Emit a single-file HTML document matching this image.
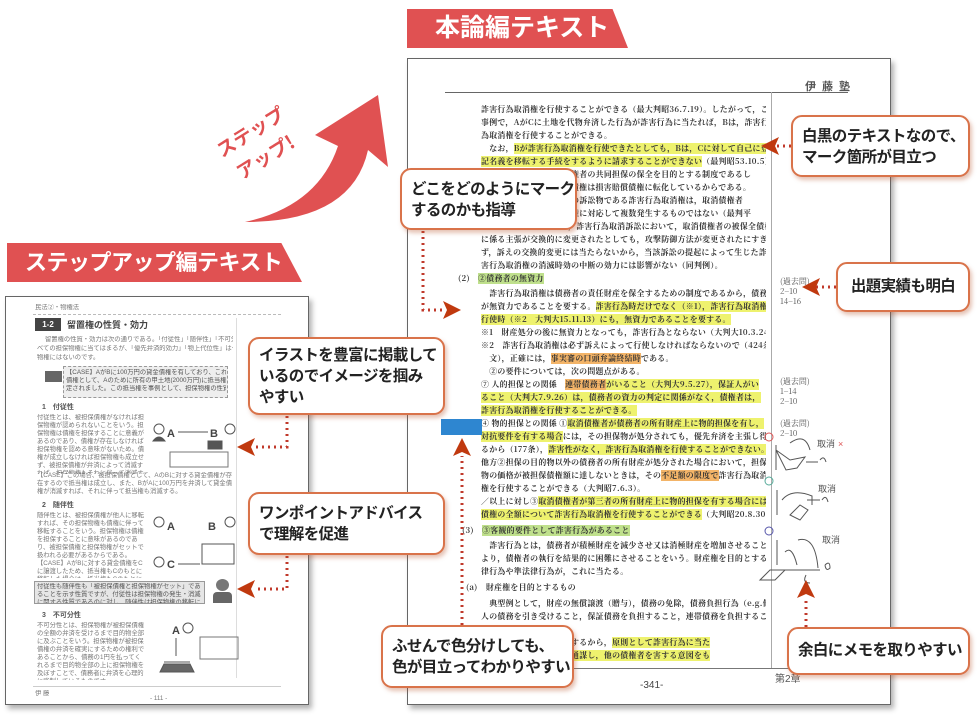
<!DOCTYPE html>
<html><head><meta charset="utf-8">
<style>
*{margin:0;padding:0;box-sizing:border-box}
body{width:980px;height:716px;background:#fff;position:relative;overflow:hidden;font-family:"Liberation Sans","Noto Sans CJK JP",sans-serif}
.abs{position:absolute}
.banner{position:absolute;background:#e05152;color:#fff;font-weight:bold;clip-path:polygon(0 0,93% 0,100% 100%,0 100%);white-space:nowrap}
.page{position:absolute;background:#fff;border:1.5px solid #666;box-shadow:3px 4px 5px rgba(0,0,0,.3)}
.rt{position:absolute;left:481px;width:285px;font-size:7.9px;letter-spacing:0.3px;color:#333;white-space:nowrap;overflow:hidden;line-height:11px;font-weight:bold;font-family:"Noto Serif CJK SC","Liberation Serif",serif}
.y{background:#eef26e}
.o{background:#f3b468}
.g{background:#bfe08c}
.u{border-bottom:2px solid #e24d95}
.lt{position:absolute;font-size:6.3px;color:#777;white-space:nowrap;overflow:hidden;line-height:8px}
.call{position:absolute;background:#fff;border:2px solid #d9734a;border-radius:11px;box-shadow:2px 3px 4px rgba(180,80,40,.35);font-weight:bold;color:#222;font-size:15.5px;letter-spacing:-0.6px;line-height:21px;padding:8px 9px;white-space:nowrap}
.note{position:absolute;left:780px;font-size:8px;color:#555;line-height:10px;font-family:"Noto Serif CJK SC",serif}
</style></head><body>

<div class="banner" style="left:407px;top:9px;width:221px;height:39px;font-size:25px;line-height:39px;padding-left:28px">本論編テキスト</div>
<div class="banner" style="left:7px;top:243px;width:295px;height:39px;font-size:22px;line-height:39px;padding-left:18px;letter-spacing:-0.5px">ステップアップ編テキスト</div>

<svg class="abs" style="left:0;top:0" width="980" height="716">
<path d="M245,222 Q352,222 368,150 L388,167 L378,95 L315,135 L338,146 Q318,206 245,222 Z" fill="#e05152"/>
<text x="0" y="0" font-size="19" font-weight="bold" fill="#e05152" transform="translate(222,158) rotate(-32)" font-family="Noto Sans CJK JP, sans-serif">ステップ</text>
<text x="0" y="0" font-size="19" font-weight="bold" fill="#e05152" transform="translate(242,180) rotate(-32)" font-family="Noto Sans CJK JP, sans-serif">アップ!</text>
</svg>

<div class="page" style="left:407px;top:58px;width:484px;height:647px"></div>
<div class="abs" style="left:445px;top:92px;width:403px;height:1px;background:#666"></div>
<div class="abs" style="left:805px;top:78px;font-size:11px;font-weight:bold;color:#555;letter-spacing:6px">伊藤塾</div>
<div class="abs" style="left:771px;top:92px;width:1px;height:576px;background:#aaa"></div>
<div class="abs" style="left:445px;top:668px;width:403px;height:1px;background:#777"></div>
<div class="abs" style="left:640px;top:680px;font-size:10px;color:#444">-341-</div>
<div class="abs" style="left:775px;top:670px;font-size:10px;color:#555">第2章</div>

<div class="rt" style="top:104px">詐害行為取消権を行使することができる（最大判昭36.7.19）。したがって，この</div>
<div class="rt" style="top:117px">事例で，AがCに土地を代物弁済した行為が詐害行為に当たれば，Bは，詐害行</div>
<div class="rt" style="top:130px">為取消権を行使することができる。</div>
<div class="rt" style="top:143px">　なお，<span class="y u">Bが詐害行為取消権を行使できたとしても，Bは，Cに対して自己に登</span></div>
<div class="rt" style="top:156px"><span class="y u">記名義を移転する手続をするように請求することができない</span>（最判昭53.10.5）。</div>
<div class="rt" style="top:169px">詐害行為取消権は，総債権者の共同担保の保全を目的とする制度であるし</div>
<div class="rt" style="top:182px">たがって，取消債権者の債権は損害賠償債権に転化しているからである。</div>
<div class="rt" style="top:195px">また，詐害行為取消訴訟の訴訟物である詐害行為取消権は，取消債権者</div>
<div class="rt" style="top:208px">の有する個々の被保全債権に対応して複数発生するものではない（最判平</div>
<div class="rt" style="top:221px">22.10.19）。したがって，詐害行為取消訴訟において，取消債権者の被保全債権</div>
<div class="rt" style="top:234px">に係る主張が交換的に変更されたとしても，攻撃防御方法が変更されたにすぎ</div>
<div class="rt" style="top:247px">ず，訴えの交換的変更には当たらないから，当該訴訟の提起によって生じた詐</div>
<div class="rt" style="top:260px">害行為取消権の消滅時効の中断の効力には影響がない（同判例）。</div>
<div class="rt" style="top:273px;left:458px">(2)　<span class="g">②債務者の無資力</span></div>
<div class="rt" style="top:288px">　詐害行為取消権は債務者の責任財産を保全するための制度であるから，<span class="u">債務者</span></div>
<div class="rt" style="top:301px"><span class="u">が無資力であることを要する。</span><span class="y u">詐害行為時だけでなく（※1），詐害行為取消権の</span></div>
<div class="rt" style="top:314px"><span class="y u">行使時（※2　大判大15.11.13）にも，無資力であることを要する。</span></div>
<div class="rt" style="top:327px">※1　財産処分の後に無資力となっても，詐害行為とならない（大判大10.3.24）。</div>
<div class="rt" style="top:340px">※2　詐害行為取消権は必ず訴えによって行使しなければならないので（424条1項本</div>
<div class="rt" style="top:353px">　文），正確には，<span class="o">事実審の口頭弁論終結時</span>である。</div>
<div class="rt" style="top:366px">　②の要件については，次の問題点がある。</div>
<div class="rt" style="top:379px">⑦ 人的担保との関係　<span class="y u"><span class="o">連帯債務者</span>がいること（大判大9.5.27），保証人がい</span></div>
<div class="rt" style="top:392px"><span class="y u">ること（大判大7.9.26）は，債務者の資力の判定に関係がなく，債権者は，</span></div>
<div class="rt" style="top:405px"><span class="y u">詐害行為取消権を行使することができる。</span></div>
<div class="rt" style="top:418px">④ 物的担保との関係 ①<span class="y">取消債権者が債務者の所有財産上に物的担保を有し，</span></div>
<div class="rt" style="top:431px"><span class="y">対抗要件を有する場合</span>には，その担保物が処分されても，優先弁済を主張し得</div>
<div class="rt" style="top:444px">るから（177条），<span class="y">詐害性がなく，詐害行為取消権を行使することができない。</span></div>
<div class="rt" style="top:457px">他方②<span class="u">担保の目的物以外の債務者の所有財産が処分された場合において，担保</span></div>
<div class="rt" style="top:470px"><span class="u">物の価格が被担保債権額に達しないときは，その<span class="o">不足額の限度で</span>詐害行為取消</span></div>
<div class="rt" style="top:483px"><span class="u">権を行使することができる</span>（大判昭7.6.3）。</div>
<div class="rt" style="top:496px">／以上に対し③<span class="y u">取消債権者が第三者の所有財産上に物的担保を有する場合には，</span></div>
<div class="rt" style="top:509px"><span class="y u">債権の全額について詐害行為取消権を行使することができる</span>（大判昭20.8.30）。</div>
<div class="rt" style="top:525px;left:462px">(3)　<span class="g">③客観的要件として詐害行為があること</span></div>
<div class="rt" style="top:540px">　詐害行為とは，債務者が積極財産を減少させ又は消極財産を増加させることに</div>
<div class="rt" style="top:553px">より，債権者の執行を結果的に困難にさせることをいう。財産権を目的とする法</div>
<div class="rt" style="top:566px">律行為や準法律行為が，これに当たる。</div>
<div class="rt" style="top:582px;left:466px">(a)　<span style="border-bottom:2px solid #7cc34e">財産権を目的とするもの</span></div>
<div class="rt" style="top:598px">　典型例として，財産の無償譲渡（贈与），債務の免除，債務負担行為（e.g.他</div>
<div class="rt" style="top:611px">人の債務を引き受けること，保証債務を負担すること，連帯債務を負担するこ</div>
<div class="rt" style="top:624px">と等）のものがある。</div>
<div class="rt" style="top:637px">　弁済は責任財産は減少するから，<span class="y">原則として詐害行為に当た</span></div>
<div class="rt" style="top:650px">　らないが，<span class="y">一債権者と通謀し，他の債権者を害する意図をも</span></div>

<div class="note" style="top:277px">(過去問)<br>2−10<br>14−16</div>
<div class="note" style="top:377px">(過去問)<br>1−14<br>2−10</div>
<div class="note" style="top:419px">(過去問)<br>2−10</div>

<svg class="abs" style="left:0;top:0" width="980" height="716" fill="none" stroke="#555" stroke-width="1">
<circle cx="769" cy="437" r="4" stroke="#d55"/><circle cx="769" cy="481" r="4" stroke="#5a9"/><circle cx="769" cy="531" r="4" stroke="#55a"/>
<path d="M776,445 L776,470 M776,450 L790,460 L805,457 L797,468 L786,470Z M790,443 Q805,432 810,450 M806,462 L818,462 M820,460 q4,-5 6,2"/>
<path d="M777,490 L777,515 M782,500 Q792,488 812,496 L812,505 M790,515 L800,505 L808,510 L800,520Z M807,500 L820,500 M822,500 q4,-6 6,2"/>
<path d="M777,540 L777,565 M778,570 L820,570 M785,552 Q792,545 797,565 M798,540 Q815,535 818,568 M760,580 L770,570 L785,570 L775,580Z M806,575 q-4,8 4,8 M825,565 q5,-5 5,3 q-4,4 -5,-3"/>
<text x="817" y="447" font-size="9" fill="#555" stroke="none">取消</text><text x="838" y="447" font-size="9" fill="#d55" stroke="none">×</text>
<text x="818" y="492" font-size="9" fill="#555" stroke="none">取消</text>
<text x="822" y="543" font-size="9" fill="#555" stroke="none">取消</text>
</svg>

<div class="abs" style="left:441px;top:419px;width:41px;height:16px;background:#2e86d0"></div>

<div class="page" style="left:5px;top:296px;width:304px;height:409px"></div>
<div class="lt" style="left:35px;top:304px">民法②・物権法</div>
<div class="abs" style="left:33px;top:314px;width:248px;border-top:1px dashed #bbb"></div>
<div class="abs" style="left:236px;top:318px;width:1px;height:360px;background:#ddd"></div>
<div class="abs" style="left:35px;top:318px;width:26px;height:13px;background:#444;color:#fff;font-size:8px;font-weight:bold;line-height:13px;text-align:center">1-2</div>
<div class="abs" style="left:67px;top:318px;font-size:9px;font-weight:bold;color:#444">留置権の性質・効力</div>
<div class="lt" style="left:45px;top:336px;width:188px">留置権の性質・効力は次の通りである。「付従性」「随伴性」「不可分性」はす</div>
<div class="lt" style="left:37px;top:345px;width:196px">べての担保物権に当てはまるが、「優先弁済的効力」「物上代位性」は一部の担保</div>
<div class="lt" style="left:37px;top:354px;width:196px">物権にはないのです。</div>
<div class="abs" style="left:45px;top:371px;width:17px;height:11px;background:#666"></div>
<div class="abs" style="left:63px;top:366px;width:165px;height:32px;background:#eee;border:1px dashed #999"></div>
<div class="lt" style="left:66px;top:369px;width:160px;color:#555">【CASE】AがBに100万円の貸金債権を有しており、これを被担保</div>
<div class="lt" style="left:66px;top:377px;width:160px;color:#555">債権として、Aのために所有の甲土地(2000万円)に抵当権が設</div>
<div class="lt" style="left:66px;top:385px;width:160px;color:#555">定されました。この抵当権を事例として、担保物権の性質を見てい</div>
<div class="abs" style="left:42px;top:402px;font-size:7px;font-weight:bold;color:#555">1　付従性</div>
<div class="lt" style="left:37px;top:414px;width:108px;white-space:normal;height:60px">付従性とは、被担保債権がなければ担保物権が認められないことをいう。担保物権は債権を担保することに意義があるのであり、債権が存在しなければ担保物権を認める意味がないため。債権が成立しなければ担保物権も成立せず、被担保債権が弁済によって消滅すれば、担保物権もそれに伴って消滅する。</div>
<div class="lt" style="left:37px;top:472px;width:196px;white-space:normal;height:26px">【CASE】この場合、被担保債権として、AのBに対する貸金債権が存在するので抵当権は成立し、また、BがAに100万円を弁済して貸金債権が消滅すれば、それに伴って抵当権も消滅する。</div>
<svg class="abs" style="left:150px;top:415px" width="90" height="55" fill="none" stroke="#555">
<circle cx="9" cy="14" r="5"/><path d="M3,26 q6,-8 12,0z" fill="#555"/><text x="17" y="22" font-size="11" fill="#444" stroke="none" font-weight="bold">A</text>
<text x="60" y="22" font-size="11" fill="#444" stroke="none" font-weight="bold">B</text><circle cx="80" cy="14" r="5"/>
<path d="M28,17 L58,17"/><rect x="58" y="26" width="14" height="8" fill="#555"/>
<rect x="20" y="37" width="58" height="15" stroke="#777"/>
</svg>
<div class="abs" style="left:42px;top:500px;font-size:7px;font-weight:bold;color:#555">2　随伴性</div>
<div class="lt" style="left:37px;top:512px;width:108px;white-space:normal;height:66px">随伴性とは、被担保債権が他人に移転すれば、その担保物権も債権に伴って移転することをいう。担保物権は債権を担保することに意味があるのであり、被担保債権と担保物権がセットで扱われる必要があるからである。【CASE】AがBに対する貸金債権をCに譲渡したため、抵当権もCのもとに移転した場合は、抵当権もCのもとに移転する。</div>
<svg class="abs" style="left:150px;top:512px" width="90" height="65" fill="none" stroke="#555">
<circle cx="9" cy="10" r="5"/><text x="17" y="18" font-size="11" fill="#444" stroke="none" font-weight="bold">A</text>
<text x="58" y="18" font-size="11" fill="#444" stroke="none" font-weight="bold">B</text><circle cx="80" cy="10" r="5"/>
<rect x="52" y="32" width="32" height="20"/><circle cx="9" cy="50" r="5"/><text x="17" y="56" font-size="11" fill="#444" stroke="none" font-weight="bold">C</text>
<path d="M28,52 L50,52"/>
</svg>
<div class="abs" style="left:34px;top:581px;width:171px;height:23px;background:#e6e6e6;border:1px solid #999"></div>
<div class="lt" style="left:37px;top:583px;width:166px;white-space:normal;height:20px;color:#555">付従性も随伴性も「被担保債権と担保物権がセット」であることを示す性質ですが、付従性は担保物権の発生・消滅に関する性質であるのに対し、随伴性は担保物権の移転に関する性質といえます。</div>
<div class="abs" style="left:216px;top:579px;width:13px;height:12px;border-radius:50%;background:#777"></div>
<div class="abs" style="left:213px;top:592px;width:19px;height:11px;background:#666;border-radius:4px 4px 0 0"></div>
<div class="abs" style="left:42px;top:610px;font-size:7px;font-weight:bold;color:#555">3　不可分性</div>
<div class="lt" style="left:37px;top:622px;width:108px;white-space:normal;height:58px">不可分性とは、担保物権が被担保債権の全額の弁済を受けるまで目的物全部に及ぶことをいう。担保物権が被担保債権の弁済を確実にするための権利であることから、債務の1円を払ってくれるまで目的物全部の上に担保物権を及ぼすことで、債務者に弁済を心理的に強制しているものです。</div>
<svg class="abs" style="left:150px;top:622px" width="90" height="60" fill="none" stroke="#555">
<text x="22" y="12" font-size="11" fill="#444" stroke="none" font-weight="bold">A</text><circle cx="38" cy="6" r="5"/>
<path d="M26,16 L26,34 M14,40 L40,40"/><path d="M10,50 L44,50 L40,42 L14,42Z" fill="#666"/>
<rect x="50" y="15" width="38" height="22" stroke="#777"/>
</svg>
<div class="abs" style="left:33px;top:686px;width:248px;border-top:1px solid #ccc"></div>
<div class="lt" style="left:35px;top:690px">伊 藤</div>
<div class="lt" style="left:150px;top:695px">- 111 -</div>

<svg class="abs" style="left:0;top:0" width="980" height="716" fill="none" stroke="#c0392b" stroke-width="3" stroke-dasharray="2,4">
<path d="M791,146 L775,146"/>
<path d="M836,287 L815,287"/>
<path d="M423,231 L423,310 L446,310"/>
<path d="M287,416 L287,447 L254,447"/>
<path d="M287,556 L287,589 L254,589"/>
<path d="M462,625 L462,456"/>
<path d="M806,627 L806,598"/>
</svg>
<svg class="abs" style="left:0;top:0" width="980" height="716" fill="#c0390f">
<path d="M761,146 L779,137 L775,146 L779,155Z"/>
<path d="M802,287 L820,278 L816,287 L820,296Z"/>
<path d="M461,310 L443,301 L447,310 L443,319Z"/>
<path d="M237,447 L255,438 L251,447 L255,456Z"/>
<path d="M237,589 L255,580 L251,589 L255,598Z"/>
<path d="M462,438 L453,456 L462,452 L471,456Z"/>
<path d="M806,580 L797,598 L806,594 L815,598Z"/>
</svg>

<div class="call" style="left:791px;top:115px;width:179px;height:62px;padding-top:9px">白黒のテキストなので、<br>マーク箇所が目立つ</div>
<div class="call" style="left:400px;top:168px;width:177px;height:62px;padding-top:9px">どこをどのようにマーク<br>するのかも指導</div>
<div class="call" style="left:836px;top:262px;width:134px;height:50px;padding-top:12px;text-align:center">出題実績も明白</div>
<div class="call" style="left:248px;top:337px;width:197px;height:78px;line-height:21px;padding-top:6px">イラストを豊富に掲載して<br>いるのでイメージを掴み<br>やすい</div>
<div class="call" style="left:248px;top:492px;width:197px;height:63px;padding-top:9px">ワンポイントアドバイス<br>で理解を促進</div>
<div class="call" style="left:381px;top:625px;width:193px;height:63px;padding-top:9px">ふせんで色分けしても、<br>色が目立ってわかりやすい</div>
<div class="call" style="left:787px;top:627px;width:183px;height:48px;padding-top:11px;text-align:center">余白にメモを取りやすい</div>
</body></html>
